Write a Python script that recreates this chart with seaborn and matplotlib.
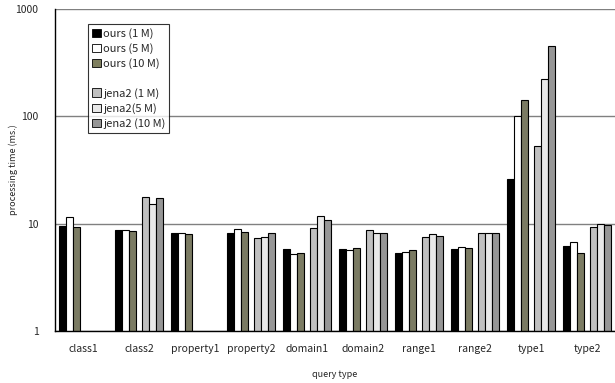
import numpy as np
import pandas as pd
import seaborn as sns
import matplotlib.pyplot as plt
from matplotlib.patches import Patch
from matplotlib.ticker import FixedLocator, NullFormatter

sns.set_style("white")
plt.rcParams["font.family"] = ["Noto Sans CJK JP", "DejaVu Sans"]

# ── data (ms.) ───────────────────────────────────────────────────────────────
queries = ["class1", "class2", "property1", "property2", "domain1",
           "domain2", "range1", "range2", "type1", "type2"]
series = ["ours (1 M)", "ours (5 M)", "ours (10 M)", " ",
          "jena2 (1 M)", "jena2(5 M)", "jena2 (10 M)"]
nan = np.nan
ours_1m = [9.5, 8.7, 8.1, 8.2, 5.75, 5.83, 5.28, 5.83, 25.9, 6.2]
ours_5m = [11.6, 8.7, 8.2, 8.95, 5.24, 5.7, 5.4, 6.0, 100.5, 6.7]
ours_10m = [9.3, 8.6, 8.0, 8.3, 5.35, 5.9, 5.7, 5.9, 143, 5.28]
blank = [nan] * 10
jena_1m = [nan, 17.8, nan, 7.4, 9.2, 8.7, 7.5, 8.2, 52.6, 9.25]
jena_5m = [nan, 15.4, nan, 7.5, 11.8, 8.2, 8.0, 8.2, 225, 9.96]
jena_10m = [nan, 17.5, nan, 8.1, 10.9, 8.2, 7.6, 8.2, 454, 9.75]

colors = ["#000000", "#ffffff", "#7f7f5f", "#ffffff",
          "#c0c0c0", "#e8e8e8", "#969696"]

rows = []
for name, vals in zip(series, [ours_1m, ours_5m, ours_10m, blank,
                               jena_1m, jena_5m, jena_10m]):
    for q, v in zip(queries, vals):
        rows.append({"query": q, "series": name, "time": v})
df = pd.DataFrame(rows)

# ── plot ─────────────────────────────────────────────────────────────────────
fig = plt.figure(figsize=(6.15, 3.83), dpi=100)
ax = fig.add_axes([55 / 615, 1 - 331 / 383, 560 / 615, 322 / 383])

sns.barplot(data=df, x="query", y="time", hue="series", order=queries,
            hue_order=series, palette=colors, width=0.84, dodge=True,
            edgecolor="black", linewidth=0.8, errorbar=None, legend=False,
            ax=ax)
ax.set_yscale("log")
ax.set_ylim(1, 1000)
ax.set_xlim(-0.5, len(queries) - 0.5)

ax.set_yticks([1, 10, 100, 1000])
ax.set_yticklabels(["1", "10", "100", "1000"])
ax.yaxis.set_minor_locator(FixedLocator([]))
ax.yaxis.set_minor_formatter(NullFormatter())
ax.tick_params(axis="y", which="major", direction="out", length=4,
               width=0.8, labelsize=7.5, pad=8)
ax.grid(axis="y", which="major", color="#808080", linewidth=1)
ax.set_axisbelow(True)

ax.tick_params(axis="x", which="major", length=0, labelsize=7.5, pad=9)
ax.xaxis.set_minor_locator(FixedLocator(np.arange(0.5, len(queries) - 0.5)))
ax.tick_params(axis="x", which="minor", direction="in", length=4, width=0.8)

for side in ["top", "right"]:
    ax.spines[side].set_visible(False)
for side in ["left", "bottom"]:
    ax.spines[side].set_color("black")
    ax.spines[side].set_linewidth(1)

ax.set_xlabel("query type", fontsize=6.5, labelpad=12)
ax.set_ylabel("processing time (ms.)", fontsize=6.5)
ax.yaxis.set_label_coords((18 - 55) / 560, 0.5)

handles = []
for name, c in zip(series, colors):
    if name.strip():
        handles.append(Patch(facecolor=c, edgecolor="black", linewidth=0.6))
    else:
        handles.append(Patch(facecolor="none", edgecolor="none"))
leg = ax.legend(handles, series, loc="upper left",
                bbox_to_anchor=((88 - 55) / 560, (331 - 24) / 322),
                borderaxespad=0, fontsize=8, frameon=True, fancybox=False,
                edgecolor="black", handlelength=0.8, handleheight=0.8,
                handletextpad=0.2, labelspacing=0.38, borderpad=0.35)
leg.get_frame().set_linewidth(0.8)

fig.savefig("out.png", dpi=100)
